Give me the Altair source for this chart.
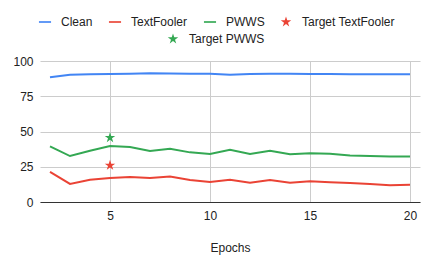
import altair as alt
import pandas as pd

epochs = list(range(2, 21))
clean = [88.4, 90.3, 90.6, 90.8, 91.0, 91.3, 91.1, 91.0, 90.9, 90.3, 90.8, 90.9, 91.0, 90.8, 90.8, 90.6, 90.6, 90.6, 90.6]
textfooler = [21.3, 12.8, 15.8, 17.0, 17.7, 17.0, 18.0, 15.6, 14.2, 15.8, 13.7, 15.6, 13.7, 14.7, 14.0, 13.5, 12.8, 11.8, 12.3]
pwws = [39.5, 32.6, 36.4, 39.7, 39.0, 36.2, 37.8, 35.2, 34.0, 37.1, 34.0, 36.4, 33.8, 34.5, 34.3, 32.9, 32.6, 32.2, 32.2]

series_names = ["Clean", "TextFooler", "PWWS"]
series_colors = ["#4285F4", "#EA4335", "#34A853"]

target_names = ["Target TextFooler", "Target PWWS"]
target_epochs = [5, 5]
target_values = [26.0, 45.6]
target_colors = ["#EA4335", "#34A853"]

x_ticks = [5, 10, 15, 20]
y_ticks = [0, 25, 50, 75, 100]

rows = []
for name, vals in zip(series_names, [clean, textfooler, pwws]):
    for e, v in zip(epochs, vals):
        rows.append({"epoch": e, "value": v, "series": name})
lines_df = pd.DataFrame(rows)
targets_df = pd.DataFrame({"epoch": target_epochs, "value": target_values, "series": target_names})

STAR = "M0,-1L0.225,-0.309L0.951,-0.309L0.363,0.118L0.588,0.809L0,0.382L-0.588,0.809L-0.363,0.118L-0.951,-0.309L-0.225,-0.309Z"
BAR = "M-1.1,-0.15L1.1,-0.15L1.1,0.15L-1.1,0.15Z"

FONT = "Arial"
TXT = "#222222"

x = alt.X("epoch:Q",
          scale=alt.Scale(domain=[1.5, 20.5], nice=False, zero=False),
          axis=alt.Axis(values=x_ticks, title="Epochs", ticks=False, domain=True,
                        domainColor="#333333", labelPadding=8, titlePadding=21))
y = alt.Y("value:Q",
          scale=alt.Scale(domain=[0, 100], nice=False),
          axis=alt.Axis(values=y_ticks, title=None, ticks=False, domain=False, labelPadding=7))

legend_common = dict(orient="none", direction="horizontal", title=None,
                     labelFont=FONT, labelFontSize=12, labelColor=TXT,
                     symbolSize=121, symbolStrokeWidth=0, labelOffset=10,
                     columnPadding=15)

legA_domain = series_names + ["Target TextFooler"]
legA_colors = series_colors + ["#EA4335"]
legA_shapes = [BAR, BAR, BAR, STAR]

lines = alt.Chart(lines_df).mark_line(strokeWidth=2).encode(
    x=x, y=y,
    stroke=alt.Stroke("series:N", scale=alt.Scale(domain=series_names, range=series_colors), legend=None),
)

legA = alt.Legend(legendX=-1, legendY=-45, **legend_common)
star_a = alt.Chart(targets_df).transform_filter(
    alt.datum.series == "Target TextFooler"
).mark_point(filled=True, size=121, opacity=1, strokeWidth=0).encode(
    x=x, y=y,
    fill=alt.Fill("series:N", scale=alt.Scale(domain=legA_domain, range=legA_colors), legend=legA),
    shape=alt.Shape("series:N", scale=alt.Scale(domain=legA_domain, range=legA_shapes), legend=legA),
)

legB = alt.Legend(legendX=127, legendY=-28, **legend_common)
star_b = alt.Chart(targets_df).transform_filter(
    alt.datum.series == "Target PWWS"
).mark_point(filled=True, size=121, opacity=1, strokeWidth=0, shape=STAR).encode(
    x=x, y=y,
    color=alt.Color("series:N", scale=alt.Scale(domain=["Target PWWS"], range=["#34A853"]), legend=legB),
)

chart = alt.layer(lines, star_a, star_b).properties(
    width=380, height=141,
    autosize=alt.AutoSizeParams(type="none"),
    padding={"left": 40, "top": 61, "right": 14, "bottom": 66},
).configure_view(stroke=None).configure_axis(
    gridColor="#cccccc", labelFont=FONT, labelFontSize=12, labelColor=TXT,
    titleFont=FONT, titleFontSize=12, titleFontWeight="normal", titleColor=TXT,
)

chart.save("out.html", embed_options={"renderer": "svg", "actions": False})
